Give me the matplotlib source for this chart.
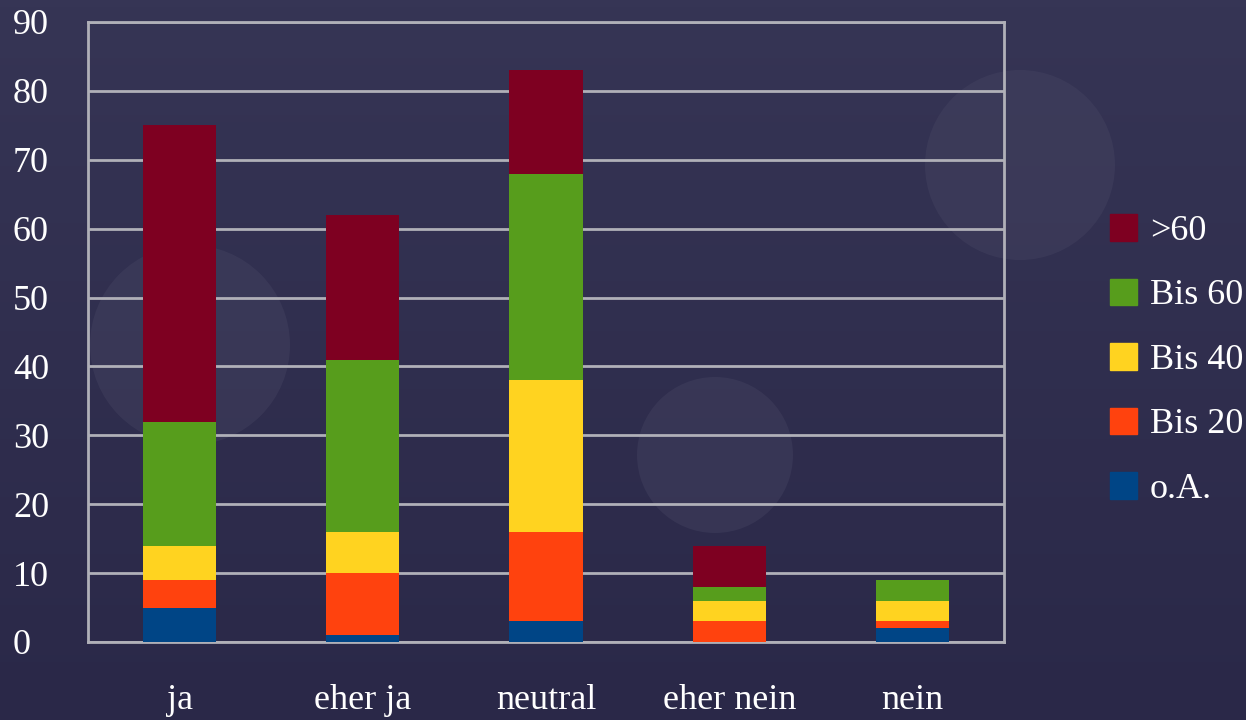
import matplotlib.pyplot as plt
from matplotlib.patches import Circle, Patch
from matplotlib.colors import LinearSegmentedColormap
import numpy as np

categories = ['ja', 'eher ja', 'neutral', 'eher nein', 'nein']
series_names = ['o.A.', 'Bis 20', 'Bis 40', 'Bis 60', '>60']
oa = [5, 1, 3, 0, 2]
bis20 = [4, 9, 13, 3, 1]
bis40 = [5, 6, 22, 3, 3]
bis60 = [18, 25, 30, 2, 3]
ueber60 = [43, 21, 15, 6, 0]
colors = ['#004586', '#ff420e', '#ffd320', '#579d1c', '#7e0021']

plt.rcParams['font.family'] = ['Liberation Serif', 'DejaVu Serif']

fig = plt.figure(figsize=(12.46, 7.2), dpi=100)
fig.patch.set_facecolor('#2d2b4c')

# background with faint circles
bg = fig.add_axes([0, 0, 1, 1], zorder=0)
bg.set_xlim(0, 1246)
bg.set_ylim(720, 0)
bg.axis('off')
grad = LinearSegmentedColormap.from_list('b', ['#363555', '#2a2848'])
bg.imshow(np.linspace(0, 1, 100).reshape(-1, 1), cmap=grad,
          extent=[0, 1246, 720, 0], aspect='auto')
for cx, cy, r in [(190, 345, 100), (1020, 165, 95), (715, 455, 78)]:
    bg.add_patch(Circle((cx, cy), r, color='#4a4966', alpha=0.35, lw=0))

ax = fig.add_axes([88 / 1246, 78 / 720, 916 / 1246, 620 / 720], zorder=1)
ax.patch.set_alpha(0)

x = np.arange(len(categories))
bottom = np.zeros(len(categories))
data = [oa, bis20, bis40, bis60, ueber60]
for vals, name, c in zip(data, series_names, colors):
    ax.bar(x, vals, width=0.4, bottom=bottom, color=c, label=name, zorder=3)
    bottom += np.array(vals)

ax.set_xlim(-0.5, len(categories) - 0.5)
ax.set_ylim(0, 90)
ax.set_yticks(range(0, 91, 10))
ax.grid(axis='y', color='#b0b0b8', lw=2, zorder=1)
for s in ax.spines.values():
    s.set_color('#b0b0b8')
    s.set_linewidth(2)
ax.tick_params(length=0, colors='white', labelsize=26)
ax.tick_params(axis='y', pad=54)
ax.tick_params(axis='x', pad=30)
for lab in ax.get_yticklabels():
    lab.set_horizontalalignment('left')
ax.set_xticks(x)
ax.set_xticklabels(categories)

handles = [Patch(color=c) for c in colors][::-1]
leg = fig.legend(handles, series_names[::-1], loc='center left',
                 bbox_to_anchor=(1110 / 1246, 0.5), frameon=False, borderpad=0,
                 borderaxespad=0, fontsize=26, labelcolor='white',
                 handlelength=0.75, handleheight=0.75,
                 handletextpad=0.35, labelspacing=0.85)

fig.savefig('out.png', dpi=100, facecolor=fig.get_facecolor())
